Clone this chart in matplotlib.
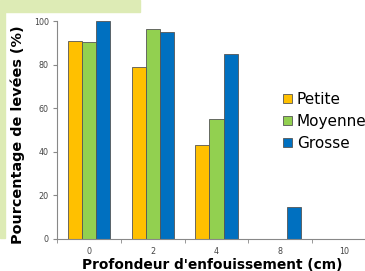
import matplotlib
matplotlib.use("Agg")
import matplotlib.pyplot as plt
import numpy as np
from matplotlib.patches import Rectangle

# depth categories and emergence percentage per seed size
depths = ["0", "2", "4", "8", "10"]
petite = [91, 79, 43, 0, 0]
moyenne = [90.5, 96.5, 55, 0, 0]
grosse = [100, 95, 85, 14.5, 0]
series_names = ["Petite", "Moyenne", "Grosse"]
colors = ["#FFC000", "#92D050", "#0070C0"]

W, H = 365, 271
fig = plt.figure(figsize=(W / 100, H / 100), dpi=100)

# slide background pieces (light green)
bg = "#DDEBB5"
fig.patches.append(Rectangle((0, (H - 12) / H), 140 / W, 12 / H,
                             transform=fig.transFigure, color=bg, zorder=0))
fig.patches.append(Rectangle((0, (H - 238) / H), 5 / W, 226 / H,
                             transform=fig.transFigure, color=bg, zorder=0))

# axes box in pixels (right side runs off the slide)
left, right, top, bottom = 57, 376, 21, 239
ax = fig.add_axes([left / W, (H - bottom) / H, (right - left) / W, (bottom - top) / H])
ax.patch.set_alpha(0)

x = np.arange(len(depths))
w = 0.22
for i, (vals, name, c) in enumerate(zip([petite, moyenne, grosse], series_names, colors)):
    ax.bar(x + (i - 1) * w, vals, w, color=c, edgecolor="#555555", linewidth=0.6, label=name)

ax.set_xlim(-0.5, len(depths) - 0.5)
ax.set_ylim(0, 100)
ax.set_yticks([0, 20, 40, 60, 80, 100])
ax.set_xticks(x)
ax.set_xticklabels(depths)
ax.set_xticks(np.arange(-0.5, len(depths), 1), minor=True)
ax.tick_params(axis="x", which="major", length=0, labelsize=5.8, colors="#444444", pad=6)
ax.tick_params(axis="x", which="minor", length=3, color="#888888")
ax.tick_params(axis="y", length=3, color="#888888", labelsize=5.8, labelcolor="#444444", pad=3)
for s in ["top", "right"]:
    ax.spines[s].set_visible(False)
for s in ["left", "bottom"]:
    ax.spines[s].set_color("#888888")
    ax.spines[s].set_linewidth(0.8)

fig.text(212 / W, (H - 265) / H, "Profondeur d'enfouissement (cm)", ha="center", va="center",
         fontsize=9.9, fontweight="bold")
fig.text(18 / W, (H - 135) / H, "Pourcentage de levées (%)", ha="center", va="center",
         rotation=90, fontsize=10.4, fontweight="bold")

fig.legend(loc="upper left", bbox_to_anchor=(277 / W, (H - 86) / H), frameon=False,
           fontsize=11, handlelength=0.55, handleheight=0.55, handletextpad=0.35,
           labelspacing=0.45, borderaxespad=0)

fig.savefig("out.png", dpi=100)
